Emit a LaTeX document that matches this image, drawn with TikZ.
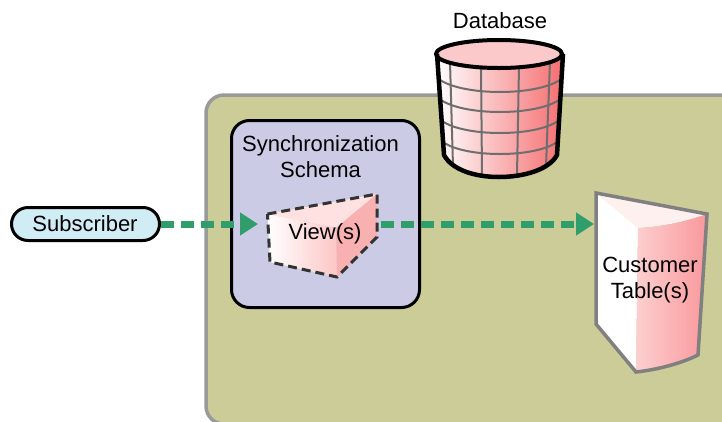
\documentclass[tikz,border=0pt]{standalone}
\usepackage{fontspec}
\setmainfont{Liberation Sans}
\usetikzlibrary{arrows.meta}
\definecolor{panelfill}{HTML}{CBCC97}
\definecolor{panelline}{HTML}{9A9A9A}
\definecolor{schemafill}{HTML}{CCCBE5}
\definecolor{subfill}{HTML}{D0ECF4}
\definecolor{flow}{HTML}{2F9E6B}
\definecolor{gridgray}{HTML}{6E6E6E}
\definecolor{dbright}{HTML}{F56E70}
\definecolor{dbtop}{HTML}{FCC9CB}
\definecolor{viewtop}{HTML}{FFE1E1}
\definecolor{viewright}{HTML}{F9B0B0}
\definecolor{viewmid}{HTML}{FCC6C6}
\definecolor{tabtop}{HTML}{FFF0F0}
\definecolor{tabright}{HTML}{F9989C}
\definecolor{tabmid}{HTML}{FDCFCF}
\definecolor{tabline}{HTML}{808080}
\tikzset{
  label text/.style={font=\fontsize{22}{26}\selectfont, text=black, inner sep=0pt, align=center},
  flowline/.style={draw=flow, line width=7pt, dash pattern=on 12.7pt off 7.3pt, -{Triangle[length=18pt,width=22pt,fill=flow]}},
  gridline/.style={draw=gridgray, line width=2pt},
}
\begin{document}
\begin{tikzpicture}[x=1pt,y=-1pt]
\useasboundingbox (0,0) rectangle (722,421);
\clip (0,0) rectangle (722,421);
% panel
\draw[fill=panelfill,draw=panelline,line width=3.5pt,rounded corners=18pt] (206,95) rectangle (760,424);
% schema box
\node[draw=black,fill=schemafill,line width=3pt,rounded corners=18pt,minimum width=188pt,minimum height=187pt,inner sep=0pt] (schema) at (325.5,214) {};
\node[label text] (schemalabel) at (320.5,157) {Synchronization\\Schema};
% database
\shade[left color=white,right color=dbright] (437,54) -- (444,155) .. controls (452,170) and (475,177) .. (499,177) .. controls (523,177) and (549,170) .. (557,155) -- (563,54) -- cycle;
\draw[gridline] (450,62) -- (453,166);
\draw[gridline] (481,66) -- (482,175);
\draw[gridline] (519,66) -- (517,175);
\draw[gridline] (550,62) -- (546,166);
\draw[gridline] (440,80) .. controls (465,96) and (535,96) .. (560,80);
\draw[gridline] (441,100) .. controls (465,116) and (535,116) .. (559,100);
\draw[gridline] (442,121) .. controls (465,137) and (535,137) .. (558,121);
\draw[gridline] (443,142) .. controls (465,158) and (535,158) .. (557,142);
\draw[black,line width=4pt,fill=dbtop] (499,54) ellipse [x radius=63, y radius=14];
\draw[black,line width=4.5pt,line join=round] (437,54) -- (444,155) .. controls (452,170) and (475,177) .. (499,177) .. controls (523,177) and (549,170) .. (557,155) -- (563,54);
\node[label text] (dblabel) at (500,21) {Database};
% view
\fill[viewtop] (267.5,214) -- (377,194) -- (336,228) -- cycle;
\fill[viewright] (377,194) -- (377,237) -- (337,277) -- (336,228) -- cycle;
\shade[left color=white,right color=viewmid] (267.5,214) -- (336,228) -- (337,277) -- (270,262) -- cycle;
\draw[draw=black!80,line width=3pt,dash pattern=on 9pt off 5pt] (267.5,214) -- (377,194) -- (377,237) -- (337,277) -- (270,262) -- cycle;
\node[label text] (view) at (325,234) {View(s)};
\coordinate (viewout) at (381,224);
% table
\fill[tabtop] (596,193) -- (707,214) .. controls (685,222) and (660,227) .. (638,228) -- cycle;
\fill[white] (596,193) -- (638,228) -- (636,372) -- (596,324) -- cycle;
\shade[left color=tabmid,right color=tabright] (638,228) .. controls (660,227) and (685,222) .. (707,214) -- (698,355) .. controls (680,364) and (655,370) .. (636,372) -- cycle;
\draw[draw=tabline,line width=3.5pt,line join=miter] (596,324) -- (596,193) -- (707,214) -- (698,355) .. controls (680,364) and (655,370) .. (636,372) -- cycle;
\node[label text] (table) at (650,280.5) {Customer\\Table(s)};
\coordinate (tablein) at (594,224);
% subscriber
\node[draw=black,fill=subfill,line width=3pt,rounded corners=16.5pt,minimum width=148pt,minimum height=33pt,inner sep=0pt] (sub) at (85.5,224) {};
\node[label text] (sublabel) at (85,224) {Subscriber};
\coordinate (viewin) at (258,224);
% flows
\draw[flowline] (sub.east) -- (viewin);
\draw[flowline] (viewout) -- (tablein);
\end{tikzpicture}
\end{document}
